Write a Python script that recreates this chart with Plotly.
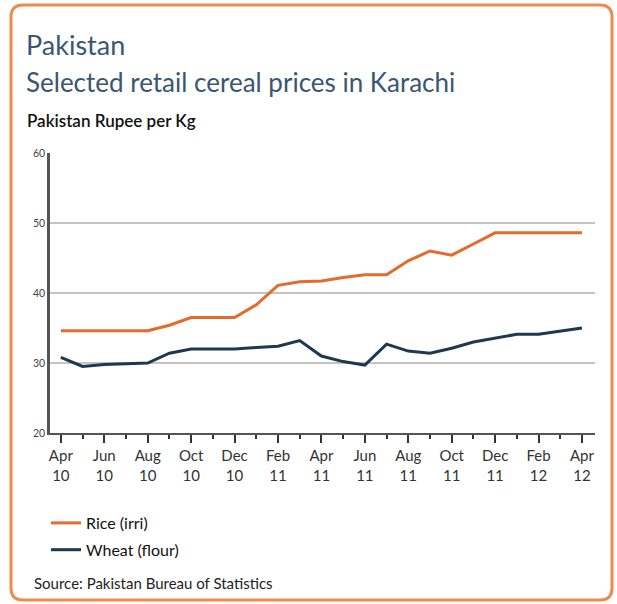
import plotly.graph_objects as go

# Monthly retail prices, April 2010 – April 2012 (Pakistan Rupee per Kg)
months = ["Apr 10", "May 10", "Jun 10", "Jul 10", "Aug 10", "Sep 10", "Oct 10",
          "Nov 10", "Dec 10", "Jan 11", "Feb 11", "Mar 11", "Apr 11", "May 11",
          "Jun 11", "Jul 11", "Aug 11", "Sep 11", "Oct 11", "Nov 11", "Dec 11",
          "Jan 12", "Feb 12", "Mar 12", "Apr 12"]
rice = [34.6, 34.6, 34.6, 34.6, 34.6, 35.4, 36.5, 36.5, 36.5, 38.3, 41.1, 41.6,
        41.7, 42.2, 42.6, 42.6, 44.6, 46.0, 45.4, 47.0, 48.6, 48.6, 48.6, 48.6, 48.6]
wheat = [30.8, 29.5, 29.8, 29.9, 30.0, 31.4, 32.0, 32.0, 32.0, 32.2, 32.4, 33.2,
         31.0, 30.2, 29.7, 32.7, 31.7, 31.4, 32.1, 33.0, 33.6, 34.1, 34.1, 34.6, 35.0]
tick_labels = ["Apr<br>10", "Jun<br>10", "Aug<br>10", "Oct<br>10", "Dec<br>10",
               "Feb<br>11", "Apr<br>11", "Jun<br>11", "Aug<br>11", "Oct<br>11",
               "Dec<br>11", "Feb<br>12", "Apr<br>12"]

W, H = 617, 604
L, R, T, B = 50, 22, 153, 171
PW, PH = W - L - R, H - T - B

FONT = "Lato"
TITLE_C = "#3b5670"
RICE_C = "#e66a2c"
WHEAT_C = "#1e3850"

idx = list(range(len(months)))

fig = go.Figure()
fig.add_trace(go.Scatter(x=idx, y=rice, mode="lines", name="Rice (irri)",
                         legendgroup="rice",
                         line=dict(color=RICE_C, width=3)))
fig.add_trace(go.Scatter(x=idx, y=wheat, mode="lines", name="Wheat (flour)",
                         legendgroup="wheat",
                         line=dict(color=WHEAT_C, width=3)))


def px(x):
    return (x - L) / PW


def py(y):
    return (H - B - y) / PH


# rounded orange frame around the whole panel
x0, x1, y0, y1, r = 11, 612, 5, 600, 12
pts = [
    ("M", px(x0 + r), py(y0)), ("L", px(x1 - r), py(y0)),
    ("Q", px(x1), py(y0), px(x1), py(y0 + r)), ("L", px(x1), py(y1 - r)),
    ("Q", px(x1), py(y1), px(x1 - r), py(y1)), ("L", px(x0 + r), py(y1)),
    ("Q", px(x0), py(y1), px(x0), py(y1 - r)), ("L", px(x0), py(y0 + r)),
    ("Q", px(x0), py(y0), px(x0 + r), py(y0)),
]
path = ""
for p in pts:
    cmd, *c = p
    path += cmd + " " + " ".join(f"{v:.5f}" for v in c) + " "
path += "Z"
fig.add_shape(type="path", path=path, xref="paper", yref="paper",
              line=dict(color="#ef8a4e", width=3), layer="below")

annos = [
    dict(text="Pakistan", x=px(24), y=py(44), size=27, color=TITLE_C, weight=400),
    dict(text="Selected retail cereal prices in Karachi", x=px(24), y=py(82),
         size=26, color=TITLE_C, weight=400),
    dict(text="Pakistan Rupee per Kg", x=px(25), y=py(121), size=17, color="#111",
         weight=600),
    dict(text="Source: Pakistan Bureau of Statistics", x=px(32), y=py(583),
         size=15, color="#222", weight=400),
]
for a in annos:
    fig.add_annotation(text=a["text"], x=a["x"], y=a["y"], xref="paper",
                       yref="paper", xanchor="left", yanchor="middle",
                       showarrow=False,
                       font=dict(family=FONT, size=a["size"], color=a["color"],
                                 weight=a["weight"]))

fig.update_layout(
    width=W, height=H,
    margin=dict(l=L, r=R, t=T, b=B, pad=0),
    paper_bgcolor="white", plot_bgcolor="white",
    font=dict(family=FONT, color="#333"),
    showlegend=True,
    legend=dict(x=px(46), y=py(506), xanchor="left", yanchor="top",
                font=dict(family=FONT, size=16, color="#111"),
                tracegroupgap=3, itemwidth=30, bgcolor="rgba(0,0,0,0)"),
    xaxis=dict(
        range=[-0.5, 24.6], showgrid=False, zeroline=False,
        tickmode="array", tickvals=idx[::2], ticktext=tick_labels,
        ticks="outside", ticklen=8, tickwidth=2, tickcolor="#333",
        showline=True, linecolor="#555", linewidth=2,
        tickfont=dict(family=FONT, size=15, color="#333"),
        minor=dict(tickmode="linear", tick0=0, dtick=1, ticks="outside",
                   ticklen=4, tickwidth=2, tickcolor="#333"),
    ),
    yaxis=dict(
        range=[20, 60], dtick=10, tick0=20, showgrid=True,
        gridcolor="#c4c4c4", gridwidth=2, zeroline=False,
        showline=True, linecolor="#555", linewidth=2.5, ticks="",
        tickfont=dict(family=FONT, size=10.5, color="#444"),
    ),
)

fig.write_html("out.html")
